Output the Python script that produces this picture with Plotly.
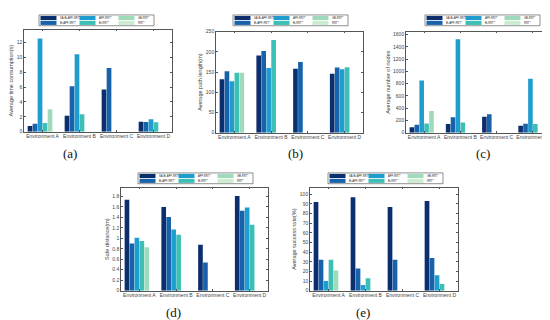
import plotly.graph_objects as go

environments = ["Environment A", "Environment B", "Environment C", "Environment D"]
series_names = ["SA-Bi-APF-RRT*", "Bi-APF-RRT*", "APF-RRT*", "Bi-RRT*", "GB-RRT*", "RRT*"]
series_colors = ["#0b2e6f", "#1762ab", "#1f9dcf", "#3dbfb6", "#9fdbbb", "#cdeccf"]

# (a) Average time consumption (s): one list per series, entries per environment
time_sa_bi_apf = [0.75, 2.15, 5.65, 1.35]
time_bi_apf = [1.05, 6.1, 8.55, 1.3]
time_apf = [12.5, 10.4, 0, 1.68]
time_bi = [1.15, 2.35, 0, 1.28]
time_gb = [3.0, 0, 0, 0]
time_rrt = [0, 0, 0, 0]

# (b) Average path length (m)
path_sa_bi_apf = [132, 191, 158, 146]
path_bi_apf = [152, 202, 175, 161]
path_apf = [127, 160, 0, 157]
path_bi = [148, 229, 0, 162]
path_gb = [148, 0, 0, 0]
path_rrt = [0, 0, 0, 0]

# (c) Average number of nodes
nodes_sa_bi_apf = [90, 140, 260, 115]
nodes_bi_apf = [130, 250, 300, 145]
nodes_apf = [850, 1525, 0, 880]
nodes_bi = [150, 165, 0, 140]
nodes_gb = [355, 0, 0, 0]
nodes_rrt = [0, 0, 0, 0]

# (d) Safe distance (m)
safe_sa_bi_apf = [1.74, 1.60, 0.88, 1.81]
safe_bi_apf = [0.90, 1.41, 0.54, 1.53]
safe_apf = [1.01, 1.17, 0, 1.59]
safe_bi = [0.95, 1.07, 0, 1.26]
safe_gb = [0.83, 0, 0, 0]
safe_rrt = [0, 0, 0, 0]

# (e) Average success rate (%)
succ_sa_bi_apf = [92, 97, 87, 93]
succ_bi_apf = [32, 23, 32, 34]
succ_apf = [10, 6, 0, 16]
succ_bi = [32, 13, 0, 7]
succ_gb = [21, 0, 0, 0]
succ_rrt = [0, 0, 0, 0]

y_titles = ["Average time consumption(s)", "Average path length(m)", "Average number of nodes",
            "Safe distance(m)", "Average success rate(%)"]
y_ticks = [[0, 2, 4, 6, 8, 10, 12], [0, 50, 100, 150, 200, 250],
           [0, 200, 400, 600, 800, 1000, 1200, 1400, 1600],
           [0, 0.2, 0.4, 0.6, 0.8, 1, 1.2, 1.4, 1.6, 1.8],
           [0, 10, 20, 30, 40, 50, 60, 70, 80, 90, 100]]
y_max = [13.7, 250, 1650, 1.97, 107]
panel_labels = ["(a)", "(b)", "(c)", "(d)", "(e)"]

panels = [
    [time_sa_bi_apf, time_bi_apf, time_apf, time_bi, time_gb, time_rrt],
    [path_sa_bi_apf, path_bi_apf, path_apf, path_bi, path_gb, path_rrt],
    [nodes_sa_bi_apf, nodes_bi_apf, nodes_apf, nodes_bi, nodes_gb, nodes_rrt],
    [safe_sa_bi_apf, safe_bi_apf, safe_apf, safe_bi, safe_gb, safe_rrt],
    [succ_sa_bi_apf, succ_bi_apf, succ_apf, succ_bi, succ_gb, succ_rrt],
]

W, H = 550, 320
# plot-area pixel boxes: (left, top, right, bottom)
boxes = [(16, 19, 164, 123), (208, 21, 355, 124), (398, 21, 543, 124),
         (113, 180, 260, 285), (302, 180, 450, 285)]
legend_origin = [(31, 4), (225, 4), (417, 4), (130, 165), (320, 165)]
label_pos = [(62, 145), (287, 145), (475, 145), (165, 307), (355, 307)]

FONT = "Liberation Sans"
fig = go.Figure()
layout = {}
annotations = []
shapes = []

def px(x):
    return x / W

def py(y):
    return 1 - y / H

for k, series in enumerate(panels):
    n = k + 1
    xa = "x" if n == 1 else f"x{n}"
    ya = "y" if n == 1 else f"y{n}"
    for i, vals in enumerate(series):
        fig.add_trace(go.Bar(x=environments, y=vals, name=series_names[i],
                             marker=dict(color=series_colors[i], line=dict(width=0)),
                             xaxis=xa, yaxis=ya, showlegend=False))
    l, t, r, b = boxes[k]
    axis_common = dict(showline=True, linecolor="#555", linewidth=0.6, mirror="ticks",
                       ticks="inside", ticklen=2, tickcolor="#555", tickwidth=0.6,
                       showgrid=False, zeroline=False,
                       tickfont=dict(size=5, color="#444", family=FONT))
    layout["xaxis" if n == 1 else f"xaxis{n}"] = dict(
        domain=[px(l), px(r)], anchor=ya, **axis_common)
    layout["yaxis" if n == 1 else f"yaxis{n}"] = dict(
        domain=[py(b), py(t)], anchor=xa, range=[0, y_max[k]], tickvals=y_ticks[k],
        title=dict(text=y_titles[k], font=dict(size=5.5, color="#444", family=FONT), standoff=2),
        **axis_common)
    # legend box (drawn manually: 3 columns x 2 rows, column-major)
    x0, y0 = legend_origin[k]
    shapes.append(dict(type="rect", xref="paper", yref="paper", layer="below",
                       x0=px(x0), x1=px(x0 + 115), y0=py(y0 + 11), y1=py(y0),
                       line=dict(color="#444", width=0.6), fillcolor="white"))
    for i, name in enumerate(series_names):
        col, row = i // 2, i % 2
        sx = x0 + 1.5 + col * 39
        sy = y0 + 1 + row * 5
        shapes.append(dict(type="rect", xref="paper", yref="paper", layer="below",
                           x0=px(sx), x1=px(sx + 16), y0=py(sy + 4.2), y1=py(sy),
                           line=dict(width=0), fillcolor=series_colors[i]))
        annotations.append(dict(text=name, xref="paper", yref="paper",
                                x=px(sx + 17.2), y=py(sy + 2.1), xanchor="left", yanchor="middle",
                                showarrow=False, font=dict(size=2.7, color="#222", family=FONT)))
    lx, ly = label_pos[k]
    annotations.append(dict(text=panel_labels[k], xref="paper", yref="paper",
                            x=px(lx), y=py(ly), xanchor="center", yanchor="middle",
                            showarrow=False, font=dict(size=13, color="#111", family="Liberation Serif")))

fig.update_layout(width=W, height=H, margin=dict(l=0, r=0, t=0, b=0),
                  paper_bgcolor="white", plot_bgcolor="rgba(0,0,0,0)",
                  barmode="group", bargap=0.19, bargroupgap=0.06,
                  annotations=annotations, shapes=shapes,
                  font=dict(family=FONT), **layout)
fig.write_html("out.html")
